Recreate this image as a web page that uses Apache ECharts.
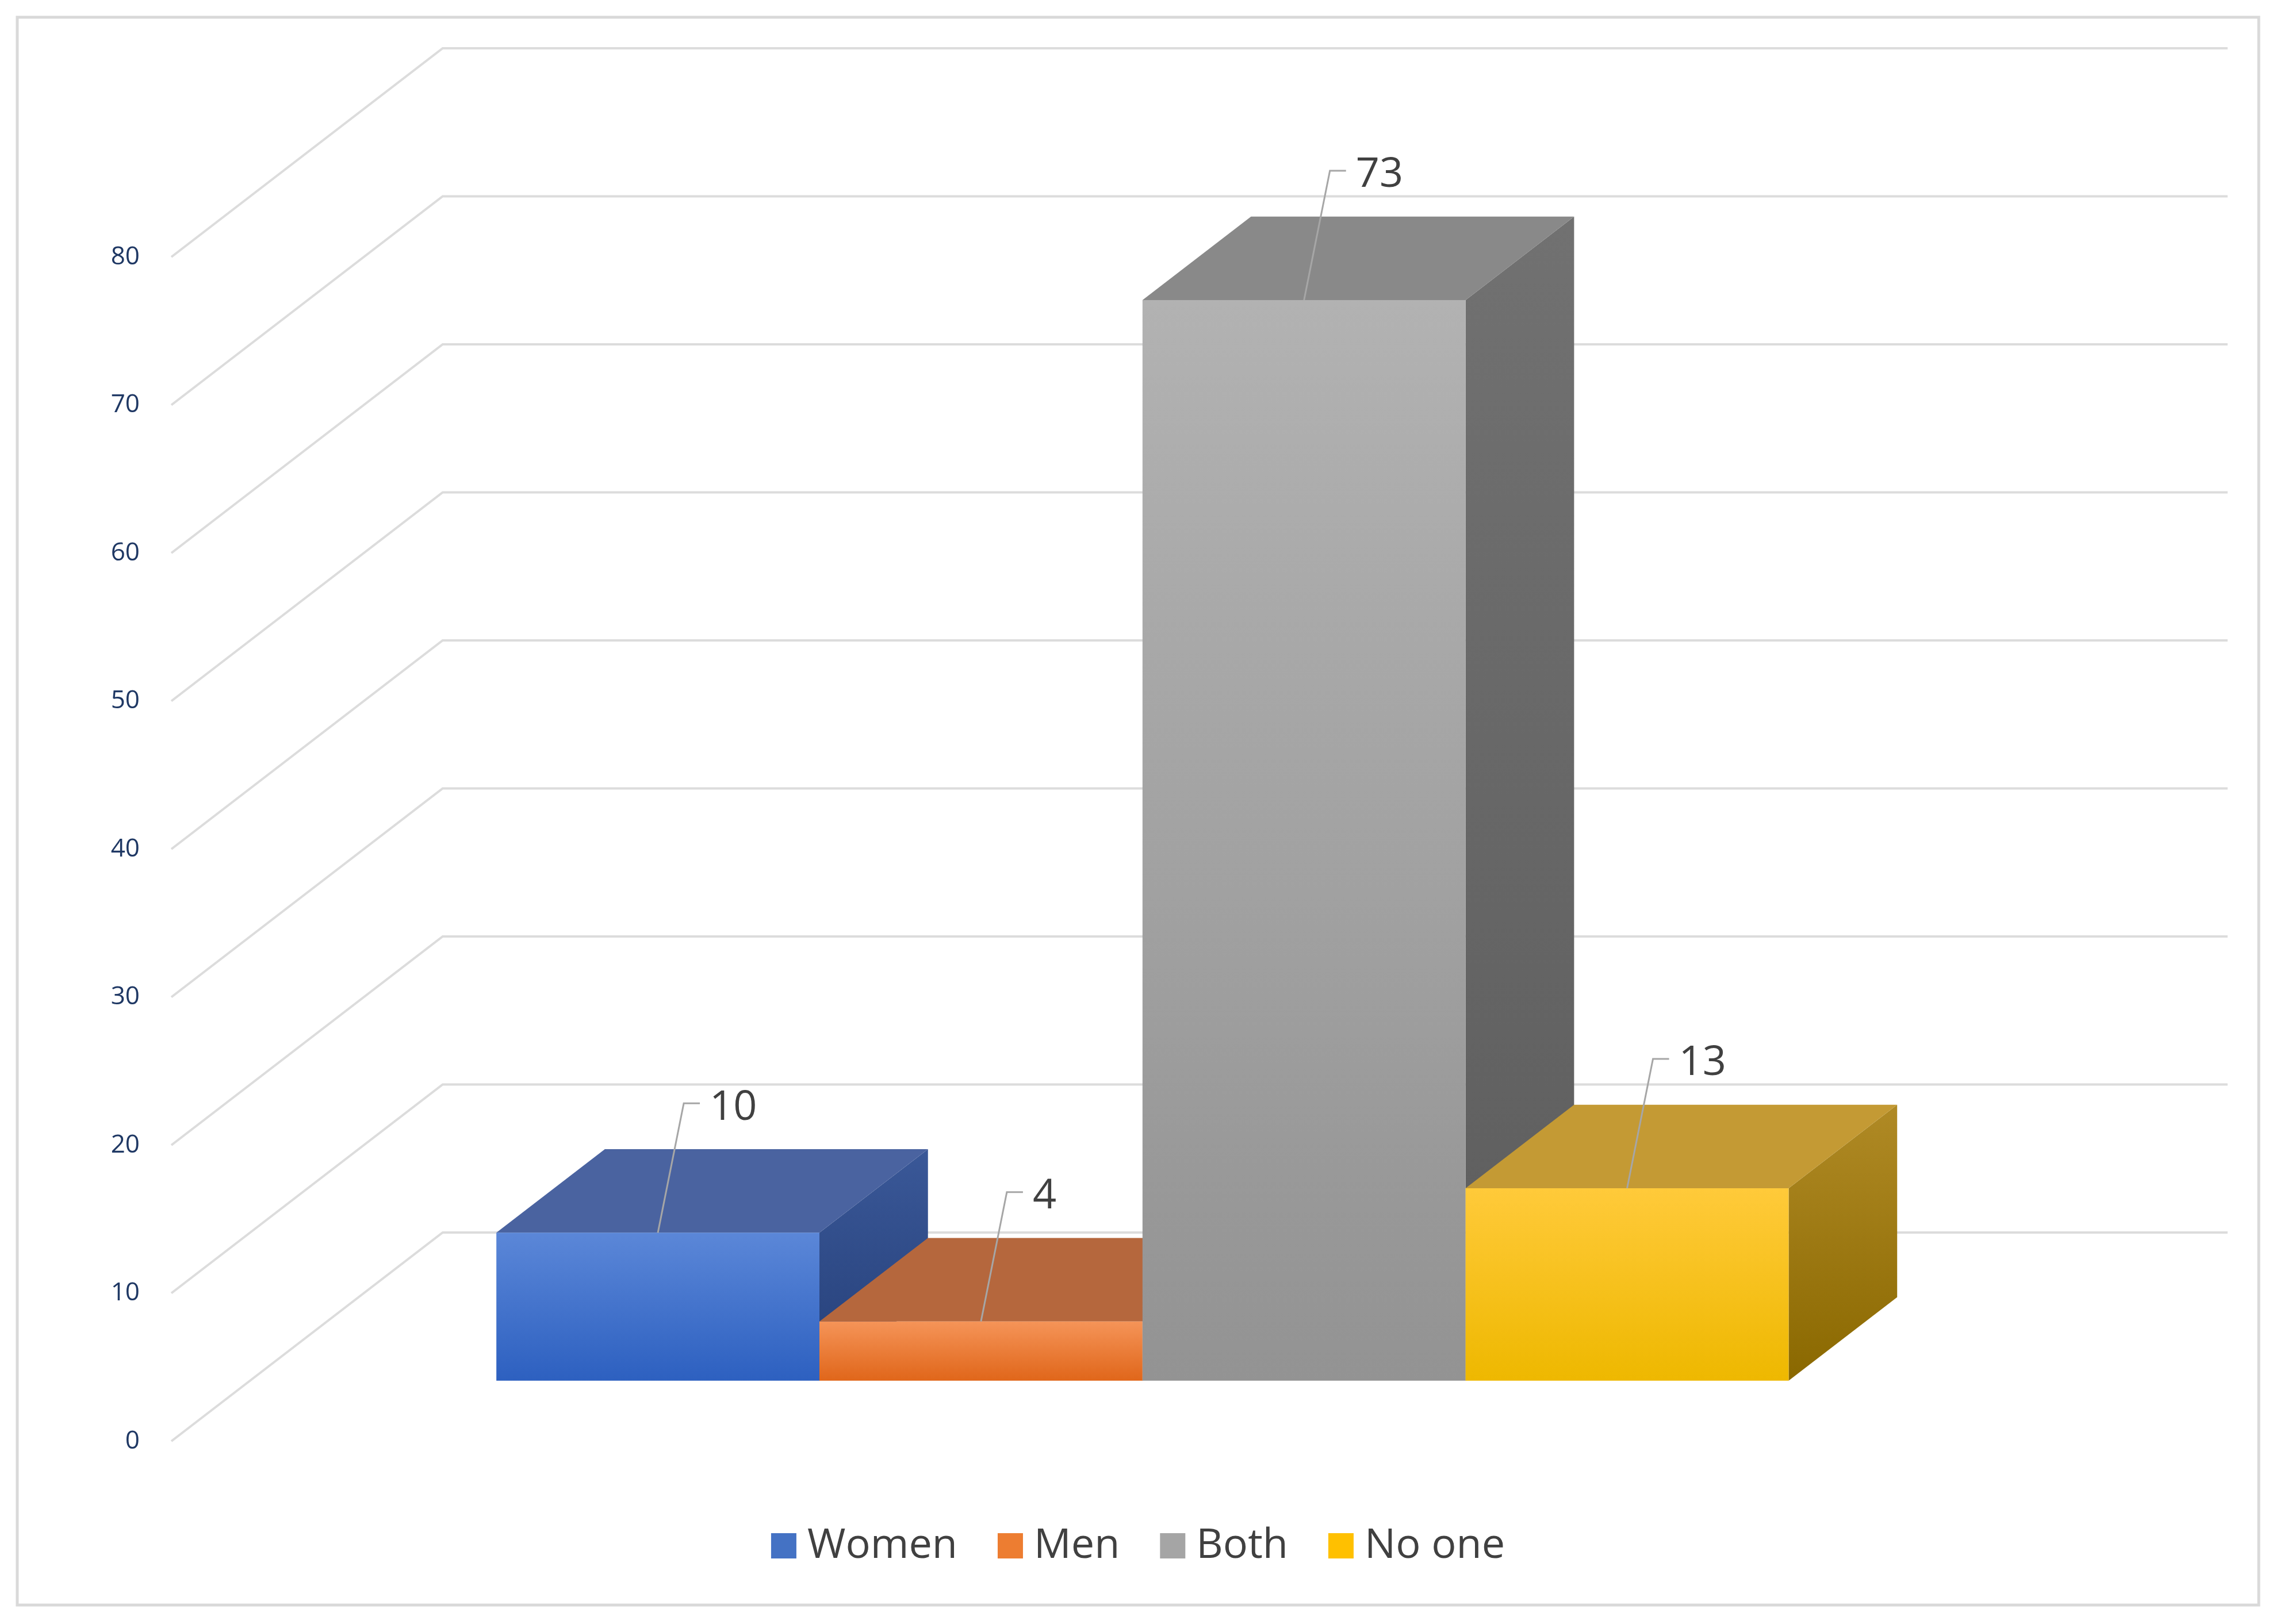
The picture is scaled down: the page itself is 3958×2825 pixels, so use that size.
<!DOCTYPE html>
<html><head><meta charset="utf-8">
<script src="https://cdn.jsdelivr.net/npm/echarts@6/dist/echarts.min.js"></script>
<style>html,body{margin:0;padding:0;background:#fff}#c{width:3958px;height:2825px}</style>
</head><body><div id="c"></div>
<script>
const seriesNames = ['Women', 'Men', 'Both', 'No one'];
const values = [10, 4, 73, 13];
const yTicks = [0, 10, 20, 30, 40, 50, 60, 70, 80];
const frontColors = [['#5b87d8', '#2d60c0'], ['#f59458', '#e0661a'], ['#b2b2b2', '#939393'], ['#ffca3a', '#eeb800']];
const topColors = ['#4a63a0', '#b5673d', '#898989', '#c49a34'];
const sideColors = [['#3a5898', '#253f78'], ['#b05a26', '#904010'], ['#717171', '#5d5d5d'], ['#b08a25', '#8a6800']];
const legendColors = ['#4472c4', '#ed7d31', '#a5a5a5', '#ffc000'];

const G0 = 0.138, BW = 0.181, F0 = 0.29, F1 = 0.69;
function offs(api) {
  const a = api.coord([0, 0]), b = api.coord([1, 0]), c = api.coord([0, 10]);
  return { DX: (b[0] - a[0]) * 0.152, DY: -(a[1] - c[1]) * 1.41 };
}
function P(api, o, x, v, d) { const p = api.coord([x, v]); return [p[0] + d * o.DX, p[1] + d * o.DY]; }
function grad(c) { return new echarts.graphic.LinearGradient(0, 0, 0, 1, [{ offset: 0, color: c[0] }, { offset: 1, color: c[1] }]); }

const series = [{
  type: 'custom', silent: true, z: 1,
  data: yTicks.map(t => [t]),
  renderItem: function (params, api) {
    const o = offs(api), t = api.value(0);
    return { type: 'polyline', shape: { points: [P(api, o, 0, t, 0), P(api, o, 0, t, 1), P(api, o, 1, t, 1)] },
      style: { stroke: '#dcdcdc', lineWidth: 4, fill: null } };
  }
}];
seriesNames.forEach((name, i) => {
  series.push({
    type: 'custom', name: name, z: 2 + i,
    itemStyle: { color: legendColors[i] },
    data: [[values[i]]],
    renderItem: function (params, api) {
      const o = offs(api), v = api.value(0);
      const x0 = G0 + i * BW, x1 = x0 + BW;
      const front = [P(api, o, x0, v, F0), P(api, o, x1, v, F0), P(api, o, x1, 0, F0), P(api, o, x0, 0, F0)];
      const top = [P(api, o, x0, v, F0), P(api, o, x1, v, F0), P(api, o, x1, v, F1), P(api, o, x0, v, F1)];
      const side = [P(api, o, x1, v, F0), P(api, o, x1, v, F1), P(api, o, x1, 0, F1), P(api, o, x1, 0, F0)];
      const s = P(api, o, (x0 + x1) / 2, v, F0);
      const e = [s[0] + 45, s[1] - 225];
      return { type: 'group', children: [
        { type: 'polygon', shape: { points: side }, style: { fill: grad(sideColors[i]) } },
        { type: 'polygon', shape: { points: top }, style: { fill: topColors[i] } },
        { type: 'polygon', shape: { points: front }, style: { fill: grad(frontColors[i]) } },
        { type: 'polyline', shape: { points: [s, e, [e[0] + 28, e[1]]] }, style: { stroke: '#a6a6a6', lineWidth: 3, fill: null } },
        { type: 'text', x: e[0] + 45, y: e[1] + 8, style: { text: String(v), fill: '#404040', fontSize: 72, fontFamily: 'Open Sans', align: 'left', verticalAlign: 'middle' } }
      ] };
    }
  });
});

const chart = echarts.init(document.getElementById('c'));
chart.setOption({
  backgroundColor: '#fff',
  animation: false,
  graphic: [{ type: 'rect', shape: { x: 30, y: 30, width: 3898, height: 2762 }, style: { fill: null, stroke: '#d9d9d9', lineWidth: 5 }, silent: true }],
  grid: { left: 298, top: 447, width: 3104, height: 2060 },
  xAxis: { type: 'value', min: 0, max: 1, show: false },
  yAxis: { type: 'value', min: 0, max: 80, interval: 10,
    axisLine: { show: false }, axisTick: { show: false }, splitLine: { show: false },
    axisLabel: { margin: 55, fontSize: 44, color: '#1f3864', fontFamily: 'Open Sans' } },
  legend: { data: seriesNames, bottom: 95, left: 'center', icon: 'rect', itemWidth: 44, itemHeight: 44, itemGap: 70,
    textStyle: { fontSize: 72, color: '#404040', fontFamily: 'Open Sans', padding: [0, 0, 0, 14] } },
  series: series
});
</script></body></html>
